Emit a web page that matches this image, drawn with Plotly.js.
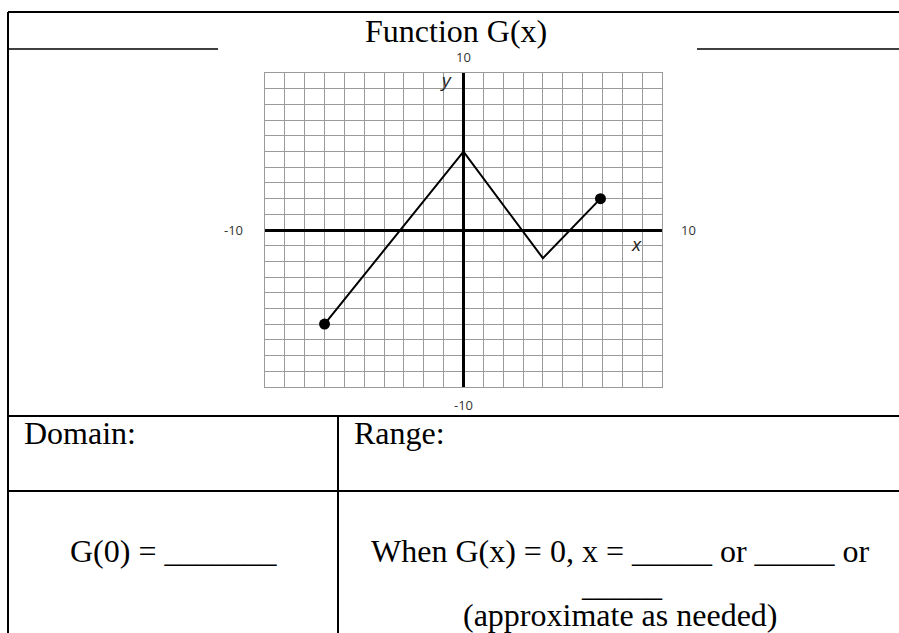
<!DOCTYPE html>
<html>
<head>
<meta charset="utf-8">
<script src="https://cdn.plot.ly/plotly-3.0.1.min.js"></script>
<style>
  html, body { margin: 0; padding: 0; background: #fff; }
  #plot { width: 899px; height: 633px; }
</style>
</head>
<body>
<div id="plot"></div>
<script>
// piecewise function G(x)
const xVals = [-7, 0, 4, 6.9];
const yVals = [-6, 5, -1.8, 2];

// axis window and its labels
const axisRange = [-10, 10];
const axisLabels = ['-10', '10'];

// worksheet texts
const titleText = 'Function G(x)';
const cellTexts = ['Domain:', 'Range:', 'G(0) = _______',
  'When G(x) = 0, x = _____ or _____ or', '_____', '(approximate as needed)'];

const W = 899, H = 633;
const px = (x) => x / W;
const py = (y) => 1 - y / H;

function drawWorksheet() {
  let curve = {
    x: xVals, y: yVals, mode: 'lines', type: 'scatter',
    line: { color: '#000', width: 2 }, hoverinfo: 'skip',
  };
  let ends = {
    x: [xVals[0], xVals[xVals.length - 1]],
    y: [yVals[0], yVals[yVals.length - 1]],
    mode: 'markers', type: 'scatter',
    marker: { color: '#000', size: 11 }, hoverinfo: 'skip',
  };

  let gridAxis = {
    range: axisRange, dtick: 1, tick0: 0,
    showticklabels: false, ticks: '',
    showgrid: true, gridcolor: '#9a9a9a', gridwidth: 1,
    zeroline: true, zerolinecolor: '#000', zerolinewidth: 3,
    showline: true, linecolor: '#9a9a9a', linewidth: 1, mirror: true,
    fixedrange: true,
  };

  /* table rules, in page pixels */
  let line = (x0, y0, x1, y1, w) => ({
    type: 'line', xref: 'paper', yref: 'paper', layer: 'above',
    x0: px(x0), y0: py(y0), x1: px(x1), y1: py(y1),
    line: { color: '#000', width: w },
  });
  let shapes = [
    line(8, 12, 899, 12, 2),
    line(8, 12, 8, 633, 2),
    line(8, 49, 218, 49, 1.5),
    line(697, 49, 899, 49, 1.5),
    line(8, 416, 899, 416, 2),
    line(8, 491, 899, 491, 2),
    line(338, 416, 338, 633, 2),
  ];

  let serif = (size) => ({ family: 'Liberation Serif, Times New Roman, serif', size: size, color: '#000' });
  let note = (text, x, y, xanchor, font) => ({
    text: text, xref: 'paper', yref: 'paper', x: px(x), y: py(y),
    xanchor: xanchor, yanchor: 'middle', showarrow: false, font: font,
  });
  let sans = { family: 'Open Sans, DejaVu Sans, sans-serif', size: 13, color: '#333' };
  let italic = { family: 'Open Sans, DejaVu Sans, sans-serif', size: 19, color: '#222' };

  let annotations = [
    note(titleText, 456, 31, 'center', serif(32)),
    note(cellTexts[0], 22, 433, 'left', serif(32)),
    note(cellTexts[1], 352, 433, 'left', serif(32)),
    note(cellTexts[2], 173, 551, 'center', serif(32)),
    note(cellTexts[3], 620, 551, 'center', serif(32)),
    note(cellTexts[4], 622, 585, 'center', serif(32)),
    note(cellTexts[5], 620, 615, 'center', serif(32)),
    // axis end labels
    { text: axisLabels[1], xref: 'x', yref: 'y', x: 0, y: axisRange[1], yshift: 16,
      showarrow: false, font: sans },
    { text: axisLabels[0], xref: 'x', yref: 'y', x: 0, y: axisRange[0], yshift: -18,
      showarrow: false, font: sans },
    { text: axisLabels[0], xref: 'x', yref: 'y', x: axisRange[0], y: 0, xshift: -32,
      showarrow: false, font: sans },
    { text: axisLabels[1], xref: 'x', yref: 'y', x: axisRange[1], y: 0, xshift: 26,
      showarrow: false, font: sans },
    { text: '<i>y</i>', xref: 'x', yref: 'y', x: -0.9, y: 9.6,
      showarrow: false, font: italic },
    { text: '<i>x</i>', xref: 'x', yref: 'y', x: 8.7, y: -0.9,
      showarrow: false, font: italic },
  ];

  let layout = {
    width: W, height: H,
    margin: { l: 0, r: 0, t: 0, b: 0 },
    paper_bgcolor: '#fff', plot_bgcolor: '#fff',
    showlegend: false,
    xaxis: Object.assign({ domain: [px(265), px(662)] }, gridAxis),
    yaxis: Object.assign({ domain: [py(386.7), py(73.3)] }, gridAxis),
    shapes: shapes,
    annotations: annotations,
  };

  Plotly.newPlot('plot', [curve, ends], layout, { displayModeBar: false, staticPlot: true });
}

window.addEventListener('DOMContentLoaded', drawWorksheet, false);
</script>
</body>
</html>
